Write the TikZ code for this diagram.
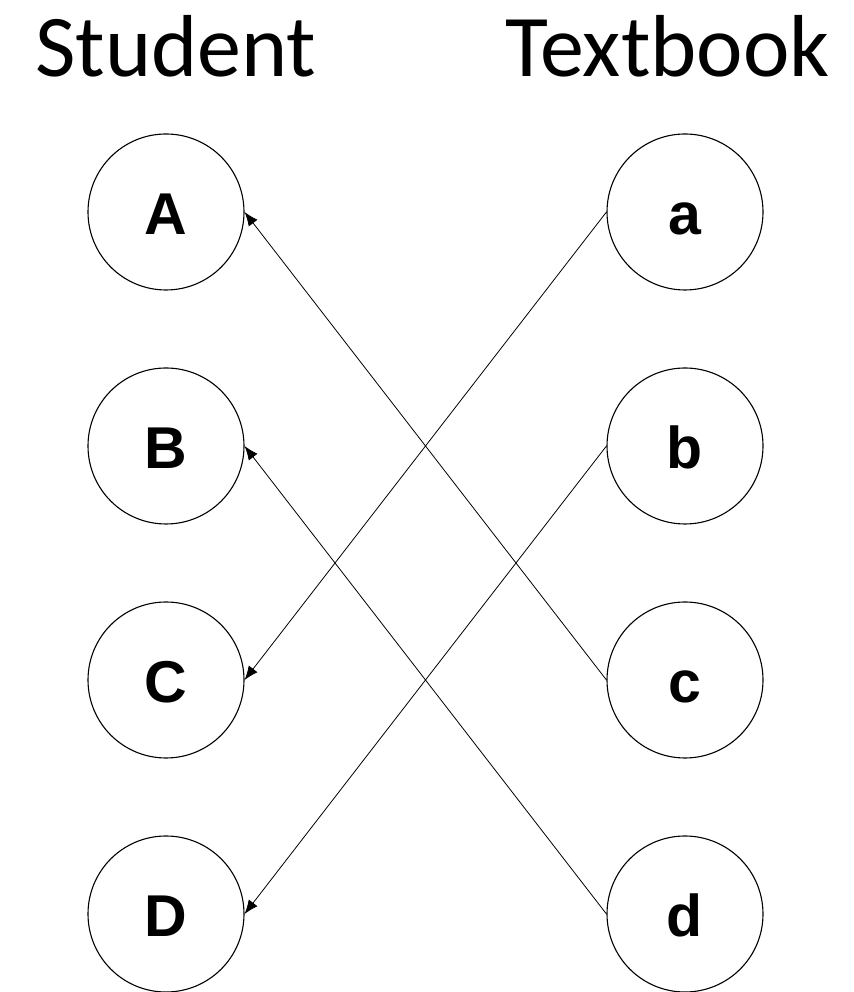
\documentclass[tikz,border=0pt]{standalone}
\usepackage{fontspec}
\setmainfont{Liberation Sans}
\newfontfamily\titlefont{Carlito}
\usetikzlibrary{arrows.meta}
\begin{document}
\begin{tikzpicture}[x=1pt,y=1pt,
  letter/.style={circle,draw,line width=1.1pt,minimum size=156pt,inner sep=0pt,
    text height=46pt,text depth=0pt,
    font=\fontsize{59}{59}\selectfont\bfseries},
  link/.style={line width=0.8pt,-{Latex[length=14pt,width=11pt]}},
  heading/.style={anchor=base west,inner sep=0pt,font=\titlefont\fontsize{88}{88}\selectfont}]
\useasboundingbox (0,0) rectangle (853,992);
\fill[white] (0,0) rectangle (853,992);
% column headings
\node[heading] (hs) at (35,915) {Student};
\node[heading] (ht) at (505,915) {Textbook};
% student column
\node[letter] (A) at (166,780) {A};
\node[letter] (B) at (166,546) {B};
\node[letter] (C) at (166,312) {C};
\node[letter] (D) at (166,78) {D};
% textbook column
\node[letter] (a) at (685,780) {a};
\node[letter] (b) at (685,546) {b};
\node[letter] (c) at (685,312) {c};
\node[letter] (d) at (685,78) {d};
% links
\draw[link] (a.west) -- (C.east);
\draw[link] (b.west) -- (D.east);
\draw[link] (c.west) -- (A.east);
\draw[link] (d.west) -- (B.east);
\end{tikzpicture}
\end{document}
